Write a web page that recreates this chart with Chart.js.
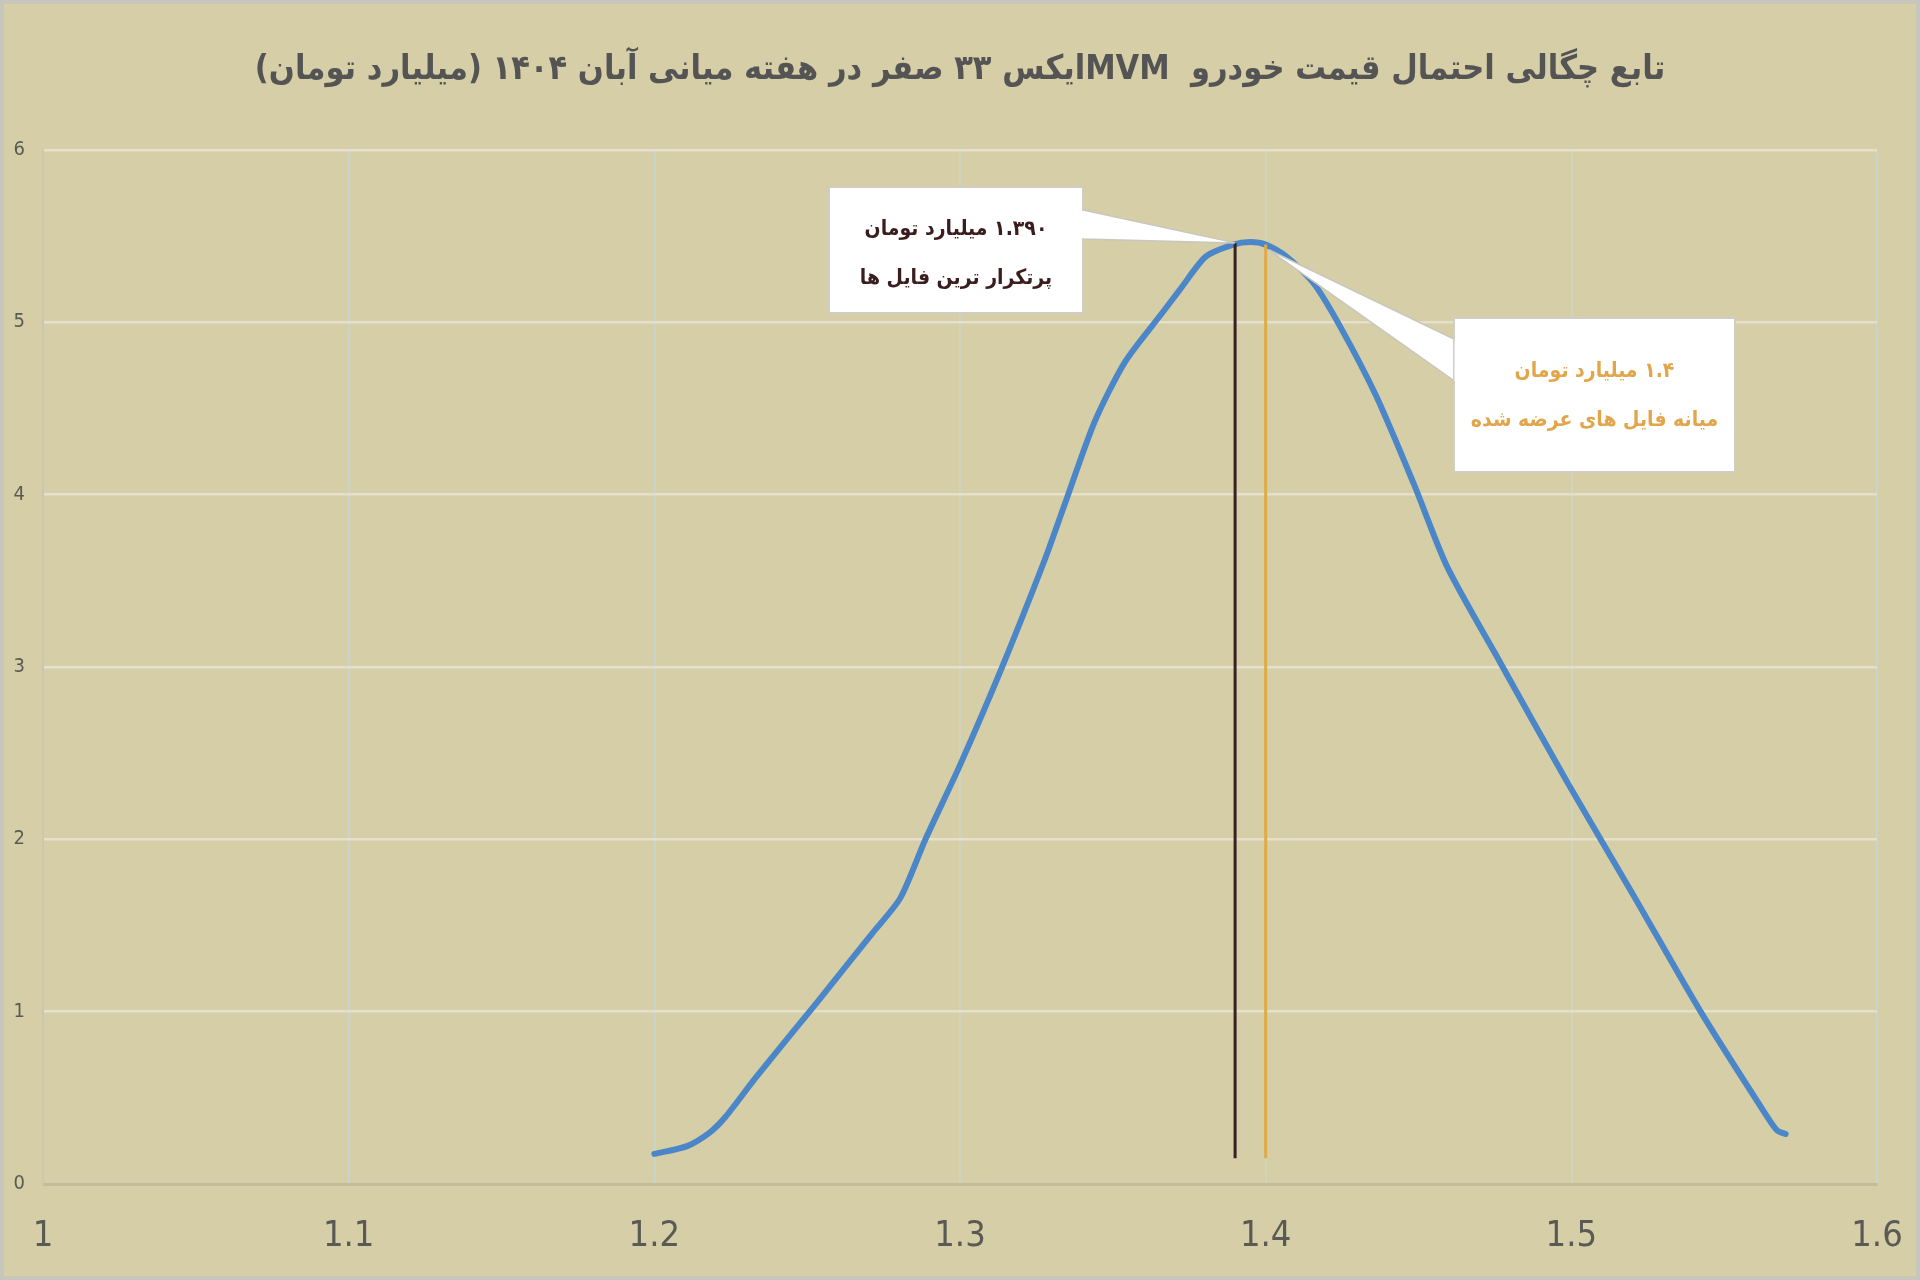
<!DOCTYPE html>
<html lang="fa">
<head>
<meta charset="utf-8">
<title>KDE MVM X33</title>
<script src="https://cdn.jsdelivr.net/npm/chart.js@4.4.1/dist/chart.umd.min.js"></script>
<style>
  html, body { margin: 0; padding: 0; background: #d6cea6; }
  #wrap { position: relative; width: 1920px; height: 1280px; }
</style>
</head>
<body>
<div id="wrap"><canvas id="kde" dir="rtl"></canvas></div>
<script>
// Density curve (price in billion toman -> density)
const densityX = [1.200, 1.2107, 1.2182, 1.2233, 1.2333, 1.2535, 1.2711, 1.2805, 1.2887, 1.300,
  1.3138, 1.3277, 1.334, 1.344, 1.354, 1.366, 1.372, 1.3804, 1.3894, 1.395,
  1.400, 1.4068, 1.4155, 1.4242, 1.4362, 1.4485, 1.4594, 1.4769, 1.4987, 1.5205,
  1.5423, 1.5641, 1.5674, 1.5701];
const densityY = [0.175, 0.22, 0.30, 0.39, 0.62, 1.06, 1.45, 1.66, 2.00, 2.43,
  3.00, 3.62, 3.93, 4.42, 4.77, 5.05, 5.19, 5.38, 5.45, 5.465,
  5.45, 5.38, 5.23, 4.98, 4.57, 4.06, 3.58, 3.02, 2.33, 1.67,
  1.00, 0.39, 0.31, 0.29];

// mode and median marker lines
const markerX = [1.39, 1.40];
const markerBottom = [0.15, 0.15];
const markerTop = [5.46, 5.45];

const xTickValues = [1, 1.1, 1.2, 1.3, 1.4, 1.5, 1.6];
const xTickLabels = ['1', '1.1', '1.2', '1.3', '1.4', '1.5', '1.6'];
const yTickValues = [0, 1, 2, 3, 4, 5, 6];

const chartTitle = 'تابع چگالی احتمال قیمت خودرو  MVMایکس ۳۳ صفر در هفته میانی آبان ۱۴۰۴ (میلیارد تومان)';
const modeLabel = ['۱.۳۹۰ میلیارد تومان', 'پرتکرار ترین فایل ها'];
const medianLabel = ['۱.۴ میلیارد تومان', 'میانه فایل های عرضه شده'];

const PERSIAN_FONT = "'DejaVu Sans Condensed', 'DejaVu Sans', sans-serif";
const NARROW_FONT = "'Liberation Sans Narrow', 'DejaVu Sans Condensed', sans-serif";

// callout boxes (pixel layout), pointer tip in data coords
const callouts = [
  {
    box: [829, 187, 254, 126],
    base: [[1083, 210], [1083, 239]],
    tip: [1.39, 5.46],
    lines: modeLabel,
    lineY: [230, 279],
    color: '#3a1d1d'
  },
  {
    box: [1454, 318, 281, 154],
    base: [[1456, 340], [1456, 382]],
    tip: [1.401, 5.42],
    lines: medianLabel,
    lineY: [372, 421],
    color: '#e2a54a'
  }
];

const backgroundPlugin = {
  id: 'bgFrame',
  beforeDraw(chart) {
    const { ctx, width, height } = chart;
    ctx.save();
    ctx.fillStyle = '#d6cea6';
    ctx.fillRect(0, 0, width, height);
    ctx.strokeStyle = '#c6c6bd';
    ctx.lineWidth = 4;
    ctx.strokeRect(2, 2, width - 4, height - 4);
    ctx.restore();
  }
};

const calloutPlugin = {
  id: 'callouts',
  afterDatasetsDraw(chart) {
    const { ctx } = chart;
    const xs = chart.scales.x, ys = chart.scales.y;
    callouts.forEach(c => {
      const tx = xs.getPixelForValue(c.tip[0]);
      const ty = ys.getPixelForValue(c.tip[1]);
      const [bx, by, bw, bh] = c.box;
      ctx.save();
      // pointer wedge
      ctx.beginPath();
      ctx.moveTo(c.base[0][0], c.base[0][1]);
      ctx.lineTo(tx, ty);
      ctx.lineTo(c.base[1][0], c.base[1][1]);
      ctx.closePath();
      ctx.fillStyle = '#ffffff';
      ctx.fill();
      ctx.strokeStyle = '#c9c7bd';
      ctx.lineWidth = 1.5;
      ctx.stroke();
      // box
      ctx.fillStyle = '#ffffff';
      ctx.fillRect(bx, by, bw, bh);
      ctx.strokeStyle = '#cfcdc4';
      ctx.lineWidth = 2;
      ctx.strokeRect(bx, by, bw, bh);
      // hide the seam between wedge and box
      ctx.beginPath();
      ctx.moveTo(c.base[0][0], c.base[0][1] + 1);
      ctx.lineTo(c.base[1][0], c.base[1][1] - 1);
      ctx.strokeStyle = '#ffffff';
      ctx.lineWidth = 3;
      ctx.stroke();
      // text
      ctx.direction = 'rtl';
      ctx.textAlign = 'center';
      ctx.textBaseline = 'middle';
      ctx.font = 'bold 21px ' + PERSIAN_FONT;
      ctx.fillStyle = c.color;
      c.lines.forEach((t, i) => ctx.fillText(t, bx + bw / 2, c.lineY[i]));
      ctx.restore();
    });
  }
};

const ctx = document.getElementById('kde');

new Chart(ctx, {
  type: 'line',
  data: {
    datasets: [
      {
        label: 'density',
        data: densityX.map((x, i) => ({ x, y: densityY[i] })),
        borderColor: '#4a86c8',
        borderWidth: 6,
        pointRadius: 0,
        tension: 0.25,
        borderCapStyle: 'round',
        borderJoinStyle: 'round',
        fill: false,
        order: 3
      },
      {
        label: 'mode',
        data: [{ x: markerX[0], y: markerBottom[0] }, { x: markerX[0], y: markerTop[0] }],
        borderColor: '#3b2020',
        borderWidth: 3,
        pointRadius: 0,
        order: 2
      },
      {
        label: 'median',
        data: [{ x: markerX[1], y: markerBottom[1] }, { x: markerX[1], y: markerTop[1] }],
        borderColor: '#e0aa48',
        borderWidth: 3,
        pointRadius: 0,
        order: 1
      }
    ]
  },
  options: {
    responsive: true,
    maintainAspectRatio: false,
    animation: false,
    devicePixelRatio: 1,
    layout: { padding: 0 },
    plugins: {
      legend: { display: false },
      tooltip: { enabled: false },
      title: {
        display: true,
        text: chartTitle,
        color: '#545454',
        font: { family: PERSIAN_FONT, size: 34, weight: 'bold', lineHeight: 1.2 },
        padding: { top: 50, bottom: 59 }
      }
    },
    scales: {
      x: {
        type: 'linear',
        min: 1,
        max: 1.6,
        afterBuildTicks: scale => { scale.ticks = xTickValues.map(v => ({ value: v })); },
        afterFit: scale => {
          scale.height = 96;
          scale.paddingLeft = 0;
          scale.paddingRight = 0;
        },
        ticks: {
          color: '#5a5a55',
          padding: 31,
          maxRotation: 0,
          autoSkip: false,
          font: { family: NARROW_FONT, size: 36 },
          callback: (v, i) => xTickLabels[i]
        },
        grid: { color: '#c9d6cf', lineWidth: 1.5, drawTicks: false },
        border: { color: '#c2bc9c', width: 3 }
      },
      y: {
        min: 0,
        max: 6,
        afterBuildTicks: scale => { scale.ticks = yTickValues.map(v => ({ value: v })); },
        afterFit: scale => { scale.width = 43; },
        ticks: {
          color: '#5a5a55',
          padding: 18,
          font: { family: NARROW_FONT, size: 20 }
        },
        grid: { color: '#e4e0cb', lineWidth: 2.5, drawTicks: false },
        border: { color: '#cdc8ac', width: 2 }
      },
      // empty right-hand axis, only sets the right margin
      yRight: {
        position: 'right',
        min: 0,
        max: 6,
        afterFit: scale => { scale.width = 43; },
        ticks: { display: false },
        grid: { display: false, drawTicks: false },
        border: { display: false }
      }
    }
  },
  plugins: [backgroundPlugin, calloutPlugin]
});
</script>
</body>
</html>
